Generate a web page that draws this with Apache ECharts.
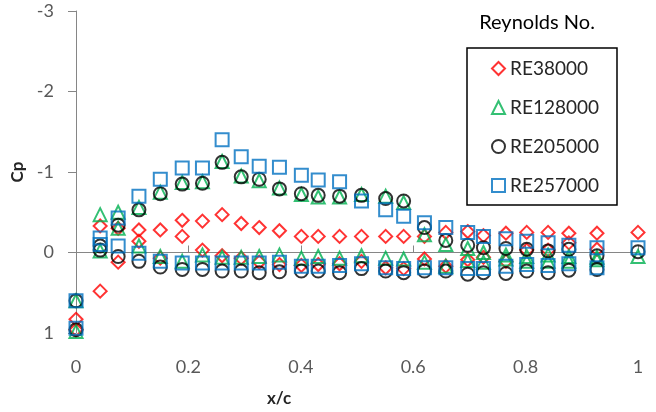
<!DOCTYPE html>
<html>
<head>
<meta charset="utf-8">
<script src="https://cdn.jsdelivr.net/npm/echarts@6/dist/echarts.min.js"></script>
<style>
html,body{margin:0;padding:0;background:#fff}
#chart{width:656px;height:412px}
</style>
</head>
<body>
<div id="chart"></div>
<script>
// pressure taps along the chord (x/c)
var stations = [0, 0.043, 0.075, 0.112, 0.150, 0.189, 0.225, 0.260, 0.294, 0.326, 0.362, 0.401, 0.431, 0.469,
  0.508, 0.551, 0.583, 0.620, 0.658, 0.697, 0.725, 0.765, 0.802, 0.840, 0.877, 0.927, 1.0];

// Cp, suction side then pressure side (null = no tap)
var re38000Upper  = [0.83, -0.33, -0.30, -0.28, -0.28, -0.40, -0.39, -0.47, -0.36, -0.31, -0.27, -0.20, -0.20, -0.20,
  -0.20, -0.20, -0.20, -0.20, -0.25, -0.26, -0.21, -0.24, -0.25, -0.25, -0.24, -0.24, -0.25];
var re38000Lower  = [0.96, 0.48, 0.12, -0.14, 0.07, -0.20, -0.03, 0.04, 0.07, 0.12, 0.15, 0.16, 0.15, 0.14,
  0.11, 0.19, 0.20, 0.08, 0.17, 0.09, 0.06, 0.11, -0.03, -0.03, -0.12, -0.04, null];

var re128000Upper = [0.60, -0.47, -0.50, -0.56, -0.75, -0.87, -0.88, -1.13, -0.95, -0.89, -0.80, -0.72, -0.69, -0.69,
  -0.72, -0.70, -0.62, -0.22, -0.10, -0.05, 0.00, 0.03, 0.05, 0.03, 0.05, 0.06, 0.05];
var re128000Lower = [0.98, -0.02, -0.30, -0.08, 0.05, 0.11, 0.03, 0.06, 0.06, 0.05, 0.03, 0.07, 0.05, 0.07,
  0.04, 0.07, 0.08, 0.12, 0.17, 0.10, 0.12, 0.08, 0.11, 0.11, 0.11, 0.09, null];

var re205000Upper = [0.60, -0.08, -0.34, -0.53, -0.73, -0.85, -0.86, -1.12, -0.94, -0.91, -0.79, -0.73, -0.71, -0.70,
  -0.71, -0.67, -0.64, -0.31, -0.15, -0.09, -0.06, -0.05, -0.04, -0.02, -0.04, 0.04, -0.01];
var re205000Lower = [0.96, -0.03, 0.05, 0.11, 0.18, 0.21, 0.21, 0.23, 0.23, 0.25, 0.24, 0.23, 0.23, 0.25,
  0.20, 0.23, 0.25, 0.23, 0.23, 0.27, 0.25, 0.26, 0.23, 0.25, 0.22, 0.21, null];

var re257000Upper = [0.60, -0.18, -0.43, -0.70, -0.91, -1.05, -1.05, -1.40, -1.19, -1.07, -1.06, -0.96, -0.90, -0.88,
  -0.64, -0.53, -0.45, -0.37, -0.31, -0.25, -0.20, -0.17, -0.14, -0.12, -0.09, -0.06, -0.06];
var re257000Lower = [0.94, -0.10, -0.08, 0.01, 0.11, 0.13, 0.13, 0.13, 0.13, 0.13, 0.12, 0.17, 0.17, 0.16,
  0.14, 0.19, 0.20, 0.19, 0.19, 0.20, 0.20, 0.17, 0.15, 0.16, 0.14, 0.19, null];

var xTicks = [0, 0.2, 0.4, 0.6, 0.8, 1];
var yTicks = [-3, -2, -1, 0, 1];

function pts(upper, lower) {
  var out = [];
  for (var i = 0; i < stations.length; i++) {
    if (upper[i] != null) out.push([stations[i], upper[i]]);
    if (lower[i] != null) out.push([stations[i], lower[i]]);
  }
  return out;
}

function series(name, symbol, size, col, data) {
  return {
    name: name, type: 'scatter', symbol: symbol, symbolSize: size, data: data,
    color: col,
    itemStyle: { color: 'rgba(0,0,0,0)', borderColor: col, borderWidth: 2 },
    emphasis: { disabled: true }
  };
}

var font = 'Lato, "Open Sans", sans-serif';
var chart = echarts.init(document.getElementById('chart'));
chart.setOption({
  animation: false,
  textStyle: { fontFamily: font },
  grid: { left: 76, right: 18, top: 11, bottom: 79, containLabel: false },
  xAxis: {
    type: 'value', min: 0, max: 1, interval: 0.2,
    axisLine: { lineStyle: { color: '#868686' } },
    axisTick: { inside: true, length: 7, lineStyle: { color: '#868686' } },
    axisLabel: { fontSize: 18, color: '#595959', margin: 25, fontFamily: font,
      formatter: function (v) { return xTicks.indexOf(+v.toFixed(1)) >= 0 ? String(+v.toFixed(1)) : ''; } },
    splitLine: { show: false }
  },
  yAxis: {
    type: 'value', min: -3, max: 1, interval: 1, inverse: true,
    name: 'Cp', nameLocation: 'middle', nameGap: 46, nameRotate: 90,
    nameTextStyle: { fontSize: 17, fontWeight: 'bold', color: '#262626', fontFamily: font },
    axisLine: { show: true, lineStyle: { color: '#868686' } },
    axisTick: { show: true, length: 8, lineStyle: { color: '#868686' } },
    axisLabel: { fontSize: 18, color: '#595959', margin: 22, fontFamily: font,
      formatter: function (v) { return yTicks.indexOf(v) >= 0 ? String(v) : ''; } },
    splitLine: { show: false }
  },
  graphic: [{
    type: 'text', x: 537, y: 23,
    style: { text: 'Reynolds No.', fontSize: 20, fontFamily: font, fill: '#000',
      align: 'center', verticalAlign: 'middle' }
  }, {
    type: 'text', x: 279, y: 399,
    style: { text: 'x/c', fontSize: 17, fontWeight: 'bold', fontFamily: font, fill: '#262626',
      align: 'center', verticalAlign: 'middle' }
  }],
  legend: {
    orient: 'vertical', left: 467, top: 48,
    padding: [11, 18, 10, 24], itemGap: 20, itemWidth: 13, itemHeight: 13,
    borderColor: '#000', borderWidth: 1.5,
    textStyle: { fontSize: 19, color: '#262626', fontFamily: font },
    data: ['RE38000', 'RE128000', 'RE205000', 'RE257000']
  },
  series: [
    series('RE38000', 'diamond', 13, '#ff0000', pts(re38000Upper, re38000Lower)),
    series('RE128000', 'triangle', 13, '#00b050', pts(re128000Upper, re128000Lower)),
    series('RE205000', 'circle', 13, '#000000', pts(re205000Upper, re205000Lower)),
    series('RE257000', 'rect', 13, '#0070c0', pts(re257000Upper, re257000Lower))
  ]
});
</script>
</body>
</html>
